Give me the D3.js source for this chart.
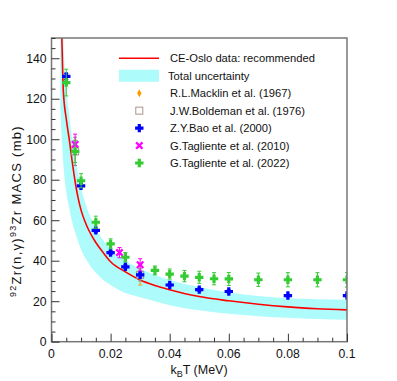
<!DOCTYPE html>
<html>
<head>
<meta charset="utf-8">
<script src="https://cdn.jsdelivr.net/npm/d3@7"></script>
<style>
  body { margin: 0; background: #fff; }
  text { font-family: "Liberation Sans", Arial, sans-serif; }
</style>
</head>
<body>
<div id="c1"></div>
<script>
// Data
var curveT   = [0.003, 0.0035, 0.004, 0.005, 0.006, 0.007, 0.008, 0.009, 0.01, 0.012, 0.015, 0.0175, 0.02, 0.025, 0.03, 0.035, 0.04, 0.05, 0.06, 0.07, 0.08, 0.09, 0.1];
var curveRec = [175, 150, 124, 110, 100, 89, 79, 71, 65, 57, 49, 44, 39.5, 34.5, 30.5, 27.8, 25.7, 22.3, 20.2, 18.5, 17.2, 16.3, 15.7];
var bandLow  = [115, 100, 88, 74, 66, 59, 54, 49.5, 45.5, 40, 34, 30.5, 28, 24, 22, 20, 18, 15.5, 13.8, 12.6, 11.8, 11.2, 10.8];
var bandHigh = [200, 175, 150, 126, 112, 100, 91, 83, 76, 66, 56, 50, 45.5, 40, 36, 33, 30.5, 27, 24.3, 22.6, 21.5, 21, 20.7];

var macklinT = [0.03], macklinV = [33], macklinE = [5];
var boldemanT = [0.008, 0.03], boldemanV = [94, 33], boldemanE = [7, 3];
var baoT = [0.005, 0.01, 0.015, 0.02, 0.025, 0.03, 0.04, 0.05, 0.06, 0.08, 0.1];
var baoV = [131, 77, 55, 44, 37, 33, 28, 25.7, 24.8, 22.8, 22.8];
var baoE = [1.5, 1, 1, 1, 1, 1, 0.8, 0.8, 0.8, 0.7, 0.7];
var tag10T = [0.008, 0.023, 0.03], tag10V = [97.5, 44, 38], tag10E = [5, 2.5, 3];
var tag22T = [0.005, 0.008, 0.01, 0.015, 0.02, 0.025, 0.035, 0.04, 0.045, 0.05, 0.055, 0.06, 0.07, 0.08, 0.09, 0.1];
var tag22V = [128, 94, 79.5, 59, 48.3, 41.7, 35.2, 33.4, 32.4, 31.8, 31.1, 31, 30.6, 30.6, 30.6, 30.6];
var tag22E = [6.6, 5.5, 3.5, 3, 2.5, 2.3, 2.2, 2.5, 2.8, 3, 3, 3.2, 3.3, 3.5, 3.5, 3.6];

var xTicks = [0, 0.02, 0.04, 0.06, 0.08, 0.1];
var yTicks = [0, 20, 40, 60, 80, 100, 120, 140];

var legendLabels = ["CE-Oslo data: recommended", "Total uncertainty", "R.L.Macklin et al. (1967)",
  "J.W.Boldeman et al. (1976)", "Z.Y.Bao et al. (2000)", "G.Tagliente et al. (2010)", "G.Tagliente et al. (2022)"];

var W = 397, H = 381;
var padL = 51.5, padR = 347, padT = 38, padB = 341.7;

function draw() {
    var svg = d3.select("#c1").append("svg").attr("width", W).attr("height", H);

    var x = d3.scaleLinear().domain([0, 0.1]).range([padL, padR]);
    var y = d3.scaleLinear().domain([0, 150]).range([padB, padT]);

    svg.append("clipPath").attr("id", "clip")
        .append("rect").attr("x", padL).attr("y", padT)
        .attr("width", padR - padL).attr("height", padB - padT);
    var plot = svg.append("g").attr("clip-path", "url(#clip)");

    // Uncertainty band
    var band = curveT.map(function (t, i) { return { t: t, lo: bandLow[i], hi: bandHigh[i] }; });
    plot.append("path").datum(band)
        .attr("fill", "#aefbfb")
        .attr("d", d3.area().curve(d3.curveMonotoneX)
            .x(function (d) { return x(d.t); })
            .y0(function (d) { return y(d.lo); })
            .y1(function (d) { return y(d.hi); }));

    // Recommended curve
    var rec = curveT.map(function (t, i) { return { t: t, v: curveRec[i] }; });
    plot.append("path").datum(rec)
        .attr("fill", "none").attr("stroke", "#ff0000").attr("stroke-width", 1.6)
        .attr("d", d3.line().curve(d3.curveMonotoneX)
            .x(function (d) { return x(d.t); })
            .y(function (d) { return y(d.v); }));

    // marker shapes
    var plusPath = "M-1.6,-4.2H1.6V-1.6H4.2V1.6H1.6V4.2H-1.6V1.6H-4.2V-1.6H-1.6Z";
    var xPath = "M-4,-2.4L-2.4,-4L0,-1.6L2.4,-4L4,-2.4L1.6,0L4,2.4L2.4,4L0,1.6L-2.4,4L-4,2.4L-1.6,0Z";
    var diamondPath = "M0,-4L2.2,0L0,4L-2.2,0Z";

    function series(T, V, E, color, shape, errColor) {
        var pts = T.map(function (t, i) { return { t: t, v: V[i], e: E[i] }; });
        var g = plot.append("g");
        var eb = g.selectAll("g.err").data(pts).enter().append("g")
            .attr("stroke", errColor || color).attr("stroke-width", 1);
        eb.append("line")
            .attr("x1", function (d) { return x(d.t); }).attr("x2", function (d) { return x(d.t); })
            .attr("y1", function (d) { return y(d.v - d.e); }).attr("y2", function (d) { return y(d.v + d.e); });
        [-1, 1].forEach(function (s) {
            eb.append("line")
                .attr("x1", function (d) { return x(d.t) - 2; }).attr("x2", function (d) { return x(d.t) + 2; })
                .attr("y1", function (d) { return y(d.v + s * d.e); }).attr("y2", function (d) { return y(d.v + s * d.e); });
        });
        if (shape === "square") {
            g.selectAll("rect.m").data(pts).enter().append("rect")
                .attr("x", function (d) { return x(d.t) - 3.5; })
                .attr("y", function (d) { return y(d.v) - 3.5; })
                .attr("width", 7).attr("height", 7)
                .attr("fill", "none").attr("stroke", color).attr("stroke-width", 1);
        } else {
            g.selectAll("path.m").data(pts).enter().append("path")
                .attr("d", shape)
                .attr("transform", function (d) { return "translate(" + x(d.t) + "," + y(d.v) + ")"; })
                .attr("fill", color);
        }
    }

    series(macklinT, macklinV, macklinE, "#ff9900", diamondPath);
    series(boldemanT, boldemanV, boldemanE, "#a8948c", "square", "#888");
    series(baoT, baoV, baoE, "#0000ff", plusPath);
    series(tag10T, tag10V, tag10E, "#ff00ff", xPath);
    series(tag22T, tag22V, tag22E, "#33cc33", plusPath);

    // Frame
    svg.append("rect").attr("x", padL).attr("y", padT)
        .attr("width", padR - padL).attr("height", padB - padT)
        .attr("fill", "none").attr("stroke", "#777").attr("stroke-width", 1.5);

    // Axes with inward ticks
    var xAxis = svg.append("g").attr("transform", "translate(0," + padB + ")")
        .call(d3.axisTop(x).tickValues(d3.range(0, 0.1001, 0.005)).tickSize(4).tickFormat(""));
    xAxis.selectAll("line").filter(function (d) { return xTicks.some(function (t) { return Math.abs(t - d) < 1e-6; }); })
        .attr("y2", -8);
    xAxis.select(".domain").remove();
    xAxis.selectAll("line").attr("stroke", "#333");
    svg.append("g").selectAll("text").data(xTicks).enter().append("text")
        .attr("x", function (d) { return x(d); }).attr("y", padB + 16)
        .attr("text-anchor", "middle").attr("font-size", 12.2).attr("fill", "#111")
        .text(function (d) { return d === 0 ? "0" : d3.format("~g")(d); });

    var yAxis = svg.append("g").attr("transform", "translate(" + padL + ",0)")
        .call(d3.axisRight(y).tickValues(d3.range(0, 151, 5)).tickSize(4).tickFormat(""));
    yAxis.selectAll("line").filter(function (d) { return d % 20 === 0; }).attr("x2", 8);
    yAxis.select(".domain").remove();
    yAxis.selectAll("line").attr("stroke", "#333");
    svg.append("g").selectAll("text").data(yTicks).enter().append("text")
        .attr("x", padL - 5).attr("y", function (d) { return y(d) + 4.5; })
        .attr("text-anchor", "end").attr("font-size", 12.2).attr("fill", "#111")
        .text(function (d) { return d; });

    // Axis titles
    var xt = svg.append("text").attr("x", 199).attr("y", 374)
        .attr("text-anchor", "middle").attr("font-size", 12.5).attr("fill", "#111");
    xt.append("tspan").text("k");
    xt.append("tspan").attr("font-size", 9).attr("dy", 3).text("B");
    xt.append("tspan").attr("dy", -3).text("T (MeV)");

    var yt = svg.append("text").attr("transform", "translate(20.5,211) rotate(-90)")
        .attr("text-anchor", "middle").attr("font-size", 13).attr("letter-spacing", 1.3)
        .attr("fill", "#111");
    yt.append("tspan").attr("font-size", 9).attr("dy", -5).text("92");
    yt.append("tspan").attr("dy", 5).text("Zr(n,\u03b3)");
    yt.append("tspan").attr("font-size", 9).attr("dy", -5).text("93");
    yt.append("tspan").attr("dy", 5).text("Zr MACS (mb)");

    // Legend
    var lx = 139.3, ly0 = 58.3, step = 17.45;
    var leg = svg.append("g");
    leg.append("line").attr("x1", 119).attr("x2", 159).attr("y1", ly0).attr("y2", ly0)
        .attr("stroke", "#ff0000").attr("stroke-width", 1.6);
    leg.append("rect").attr("x", 119).attr("y", ly0 + step - 6).attr("width", 40).attr("height", 12)
        .attr("fill", "#aefbfb");
    var shapes = [diamondPath, "square", plusPath, xPath, plusPath];
    var colors = ["#ff9900", "#a8948c", "#0000ff", "#ff00ff", "#33cc33"];
    shapes.forEach(function (s, i) {
        var cy = ly0 + step * (i + 2);
        if (s === "square") {
            leg.append("rect").attr("x", lx - 3.5).attr("y", cy - 3.5).attr("width", 7).attr("height", 7)
                .attr("fill", "none").attr("stroke", colors[i]).attr("stroke-width", 1);
        } else {
            leg.append("path").attr("d", s).attr("transform", "translate(" + lx + "," + cy + ")")
                .attr("fill", colors[i]);
        }
    });
    leg.selectAll("text").data(legendLabels).enter().append("text")
        .attr("x", function (d, i) { return i === 1 ? 168 : 170; })
        .attr("y", function (d, i) { return ly0 + step * i + 4; })
        .attr("font-size", 11.2).attr("fill", "#111")
        .text(function (d) { return d; });
}

draw();
</script>
</body>
</html>
